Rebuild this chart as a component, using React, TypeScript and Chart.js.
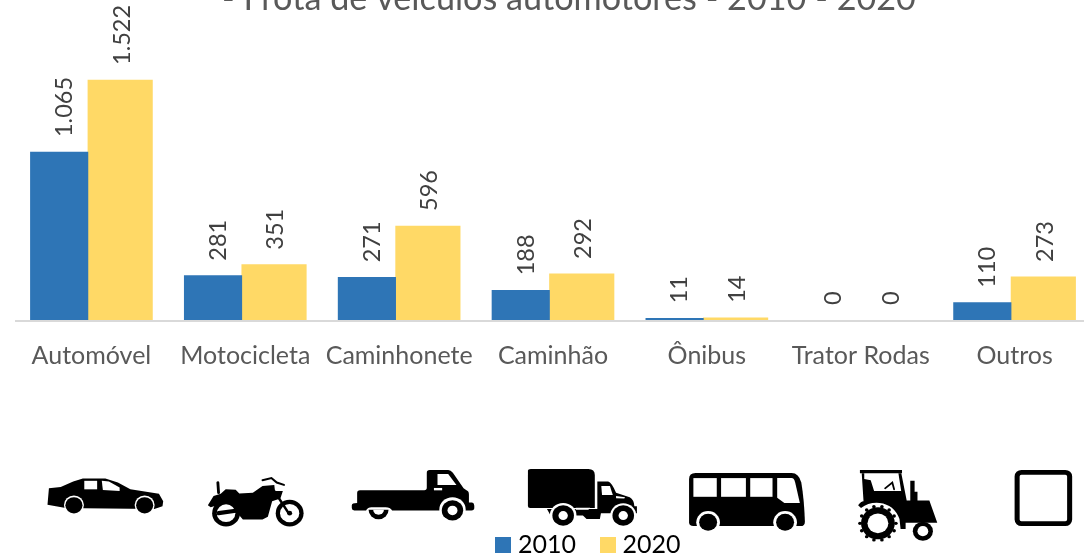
import React, { useEffect, useRef } from "react";
import { Chart, registerables } from "chart.js";

Chart.register(...registerables);

const categories = ["Automóvel", "Motocicleta", "Caminhonete", "Caminhão", "Ônibus", "Trator Rodas", "Outros"];
const series2010 = [1065, 281, 271, 188, 11, 0, 110];
const series2020 = [1522, 351, 596, 292, 14, 0, 273];
const titleText = "- Frota de veículos automotores - 2010 - 2020";
const BLUE = "#2E75B6";
const YELLOW = "#FFD966";
const FONT = "Lato";

const fmt = (v: number) => (v >= 1000 ? `${Math.floor(v / 1000)}.${String(v % 1000).padStart(3, "0")}` : String(v));

function swatch(color: string) {
  const c = document.createElement("canvas");
  c.width = 16;
  c.height = 16;
  const g = c.getContext("2d")!;
  g.fillStyle = color;
  g.fillRect(0, 0, 16, 16);
  return c;
}

type Icon = { ox: number; s: number; black: string[]; white: string[]; stroke?: [string, number, string][] };
const circ = (x: number, y: number, r: number) => `M${x - r} ${y}a${r} ${r} 0 1 0 ${2 * r} 0a${r} ${r} 0 1 0 ${-2 * r} 0Z`;
const knobAngles = [0, 1, 2, 3, 4, 5, 6, 7, 8, 9, 10, 11, 12, 13];
const tractorKnobs = knobAngles.map((k) =>
  circ(995 + 50 * Math.cos((k * Math.PI) / 7), 245 + 50 * Math.sin((k * Math.PI) / 7), 5)
);

const icons: Icon[] = [
  {
    ox: 0, s: 2.8,
    black: ["M137 142L170 138L205 122L232 113L295 113L330 125L365 145L445 158L457 180L455 195L432 203L235 201L180 199L133 190Z"],
    white: ["M236 120L272 120L272 145L236 145Z", "M285 120L305 122L335 140L335 150L288 147Z", circ(207, 191, 28), circ(405, 191, 28)],
  },
  { ox: 0, s: 2.8, black: [circ(207, 192, 24), circ(405, 192, 24)], white: [] },
  {
    ox: 0, s: 2.8,
    black: [
      "M582 192L598 165L618 158L632 145L660 146L670 157L708 155L735 135L768 132L770 150L792 150L785 172L762 180L750 226L735 234L680 234L662 212L640 226L612 216L620 188L590 198Z",
      circ(633, 215, 39), circ(811, 215, 39),
    ],
    white: [circ(633, 215, 26), circ(811, 215, 27)],
    stroke: [
      ["M610 125L612 155", 8, "#000"],
      ["M735 118L760 112L775 125L795 132", 6, "#000"],
      ["M768 150L808 215", 7, "#000"],
      ["M612 215L660 208", 12, "#000"],
      ["M811 215L811 215", 14, "#000"],
    ],
  },
  {
    ox: 0, s: 2.8,
    black: [
      "M1195 96Q1195 88 1203 88L1255 88Q1262 88 1268 96L1298 142L1305 147Q1313 150 1313 160L1313 184L1322 184Q1328 185 1328 193L1328 200Q1328 207 1320 207L1232 207L1098 207Q1092 198 1080 198L1040 198Q1030 198 1025 207L992 207Q985 207 985 200L985 192Q985 185 1000 185L1000 156Q1000 148 1008 148L1188 148Q1195 148 1195 140Z",
      "M1032 205L1088 205A28 28 0 0 1 1032 205Z",
    ],
    white: ["M1225 100L1255 100L1278 132L1225 132Z", "M1215 141L1238 141L1238 148L1215 148Z", "M1045 205L1075 205A15 15 0 0 1 1045 205Z", circ(1267, 205, 37)],
  },
  { ox: 0, s: 2.8, black: [circ(1267, 207, 30)], white: [circ(1267, 207, 14)] },
  {
    ox: 520, s: 2.78,
    black: [
      "M30 85L190 85Q208 85 208 103L208 200L28 200Q22 200 22 194L22 91Q22 85 30 85Z",
      "M215 122L245 122Q255 125 267 155L305 168Q317 175 318 195L325 195L325 215L225 215L222 232L185 232L175 222L85 222L75 203L215 203Z",
    ],
    white: ["M226 135L250 135L258 162L228 162Z", "M155 199L195 199L190 205L155 205Z", "M267 165L292 168L290 172L267 171Z", circ(120, 222, 37), circ(287, 222, 36)],
  },
  { ox: 520, s: 2.78, black: [circ(120, 222, 30), circ(287, 222, 30)], white: [circ(120, 222, 13), circ(287, 222, 13)] },
  {
    ox: 520, s: 2.78,
    black: ["M488 97L755 97Q775 97 782 125Q790 175 792 240Q792 253 780 253L482 253Q470 253 470 242L470 115Q470 97 488 97Z"],
    white: [
      "M482 112L547 112L547 167L482 167Z", "M559 112L628 112L628 167L559 167Z", "M640 112L702 112L702 167L640 167Z",
      "M715 112L755 112Q762 112 765 125L778 185L735 185L715 170Z",
      circ(523, 242, 33), circ(737, 242, 33), "M470 254L792 254L792 280L470 280Z",
    ],
  },
  { ox: 520, s: 2.78, black: [circ(523, 242, 25), circ(737, 242, 25)], white: [] },
  {
    ox: 520, s: 2.78,
    black: [
      "M945 88L1062 88L1062 98L945 98Z",
      "M950 98L957 98L957 115L975 118L985 152L1060 152L1052 98L1060 98L1075 178L1085 178L1085 120L1097 120L1097 152L1105 152L1105 178L1138 178L1160 243L1072 243L1072 262L1058 262L1055 232Q1040 190 1000 185Q970 182 948 200L940 192Q948 180 955 180Z",
      circ(995, 245, 47), circ(1120, 268, 28),
    ].concat(tractorKnobs),
    white: [circ(995, 245, 29), circ(1120, 268, 15), "M990 152L1055 152L1050 128L1020 145Z"],
    stroke: [["M1015 142L1035 125L1040 145", 5, "#000"], ["M985 152L1060 152", 4, "#000"]],
  },
];

const SY = 2.94;

const iconPlugin = {
  id: "pictograms",
  afterDraw(chart: any) {
    const { ctx } = chart;
    icons.forEach((ic) => {
      ctx.save();
      ctx.translate(ic.ox, 440);
      ctx.scale(1 / ic.s, 1 / SY);
      ctx.fillStyle = "#000";
      ic.black.forEach((d) => ctx.fill(new Path2D(d)));
      ctx.fillStyle = "#fff";
      ic.white.forEach((d) => ctx.fill(new Path2D(d)));
      (ic.stroke || []).forEach(([d, w, c]) => {
        ctx.strokeStyle = c;
        ctx.lineWidth = w;
        ctx.lineCap = "round";
        ctx.stroke(new Path2D(d));
      });
      ctx.restore();
    });
    // "Outros" pictogram: empty rounded square
    ctx.save();
    ctx.translate(520, 440);
    ctx.scale(1 / 2.78, 1 / SY);
    ctx.strokeStyle = "#000";
    ctx.lineWidth = 14;
    ctx.beginPath();
    ctx.roundRect(1382, 95, 146, 151, 12);
    ctx.stroke();
    ctx.restore();
  },
};

const labelPlugin = {
  id: "valueLabels",
  afterDatasetsDraw(chart: any) {
    const { ctx } = chart;
    ctx.save();
    ctx.fillStyle = "#404040";
    ctx.font = `23.5px ${FONT}`;
    ctx.textAlign = "left";
    ctx.textBaseline = "middle";
    chart.data.datasets.forEach((ds: any, di: number) => {
      const meta = chart.getDatasetMeta(di);
      meta.data.forEach((el: any, i: number) => {
        const boundary = chart.scales.x.getPixelForValue(i);
        const x = boundary + (di === 0 ? -23.5 : 34);
        ctx.save();
        ctx.translate(x, el.y - 15);
        ctx.rotate(-Math.PI / 2);
        ctx.fillText(fmt(ds.data[i]), 0, 0);
        ctx.restore();
      });
    });
    ctx.restore();
  },
};

const framePlugin = {
  id: "frame",
  afterLayout(chart: any) {
    if (chart.legend) {
      chart.legend.left += 41;
      chart.legend.right += 41;
      chart.legend.top = 503;
    }
    if (chart.titleBlock) {
      chart.titleBlock.left += 19.5;
      chart.titleBlock.right += 19.5;
    }
  },
  afterDatasetsDraw(chart: any) {
    const { ctx, chartArea } = chart;
    ctx.save();
    ctx.strokeStyle = "#D9D9D9";
    ctx.lineWidth = 2;
    ctx.beginPath();
    ctx.moveTo(15, chartArea.bottom + 1);
    ctx.lineTo(1084, chartArea.bottom + 1);
    ctx.stroke();
    ctx.restore();
  },
};

export default function App() {
  const ref = useRef<HTMLCanvasElement>(null);
  useEffect(() => {
    const chart = new Chart(ref.current!, {
      type: "bar",
      data: {
        labels: categories,
        datasets: [
          { label: "2010", data: series2010, backgroundColor: (c: any) => (c.raw === 0 ? "transparent" : BLUE), barThickness: 57.5 },
          { label: "2020", data: series2020, backgroundColor: (c: any) => (c.raw === 0 ? "transparent" : YELLOW), barThickness: 64.5 },
        ],
      },
      options: {
        animation: false,
        responsive: false,
        layout: { padding: { left: 11, right: 4, top: 0, bottom: 0 } },
        plugins: {
          tooltip: { enabled: false },
          title: {
            display: true,
            text: titleText,
            color: "#595959",
            font: { family: FONT, size: 34.2, weight: "normal", lineHeight: 1.2 },
            padding: { top: -21.5, bottom: -19.54 },
          },
          legend: {
            position: "bottom",
            labels: {
              color: "#595959",
              font: { family: FONT, size: 25 },
              usePointStyle: true,
              pointStyleWidth: 5,
              padding: 29,
              generateLabels: () => [
                { text: "2010", pointStyle: swatch(BLUE), fillStyle: BLUE, strokeStyle: BLUE, lineWidth: 0, datasetIndex: 0 },
                { text: "2020", pointStyle: swatch(YELLOW), fillStyle: YELLOW, strokeStyle: YELLOW, lineWidth: 0, datasetIndex: 1 },
              ],
            },
          },
        },
        scales: {
          x: {
            grid: { display: false },
            border: { display: false },
            afterFit: (s: any) => {
              s.height = 236 - (s.chart.legend?.height ?? 36);
            },
            ticks: {
              color: "#595959",
              font: { family: FONT, size: 25 },
              labelOffset: 3.5,
              padding: 13,
              maxRotation: 0,
              autoSkip: false,
            },
          },
          y: { display: false, min: 0, max: 2029 },
        },
      } as any,
      plugins: [framePlugin, labelPlugin, iconPlugin],
    });
    return () => chart.destroy();
  }, []);
  return (
    <div style={{ position: "absolute", left: 0, top: 0, width: 1084, height: 556, overflow: "hidden", background: "#fff" }}>
      <canvas ref={ref} width={1092} height={556} style={{ display: "block" }} />
    </div>
  );
}
